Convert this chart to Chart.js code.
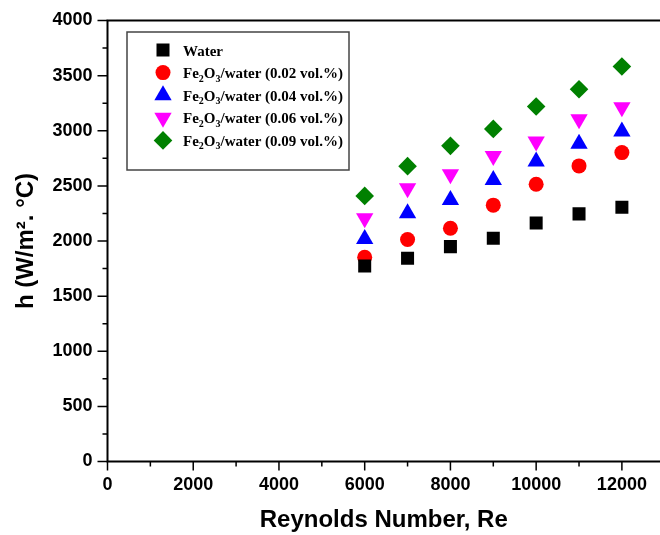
<!DOCTYPE html>
<html>
<head>
<meta charset="utf-8">
<script src="https://cdn.jsdelivr.net/npm/chart.js@4"></script>
<style>
  html, body { margin: 0; padding: 0; background: #fff; overflow: hidden; }
  canvas { display: block; }
</style>
</head>
<body>
<canvas id="myChart" width="660" height="535"></canvas>
<script>
// data
const reynolds = [6000, 7000, 8000, 9000, 10000, 11000, 12000];
const water = [1774, 1844, 1949, 2025, 2164, 2246, 2307];
const fe002 = [1853, 2013, 2116, 2325, 2515, 2681, 2802];
const fe004 = [2019, 2252, 2373, 2554, 2721, 2881, 2993];
const fe006 = [2207, 2479, 2606, 2772, 2902, 3105, 3214];
const fe009 = [2409, 2679, 2863, 3017, 3220, 3377, 3583];

const seriesNames = [
  'Water',
  'Fe₂O₃/water (0.02 vol.%)',
  'Fe₂O₃/water (0.04 vol.%)',
  'Fe₂O₃/water (0.06 vol.%)',
  'Fe₂O₃/water (0.09 vol.%)'
];
const xTicks = [0, 1000, 2000, 3000, 4000, 5000, 6000, 7000, 8000, 9000, 10000, 11000, 12000];
const xTickLabels = [0, 2000, 4000, 6000, 8000, 10000, 12000];
const yTickLabels = [0, 500, 1000, 1500, 2000, 2500, 3000, 3500, 4000];

function pts(arr) {
  return reynolds.map((r, i) => ({ x: r, y: arr[i] }));
}

const subMap = { '₂': '2', '₃': '3' };

// legend box inside the plot, drawn by hand so the subscripts look right
const legendBox = {
  id: 'legendBox',
  afterDraw(chart) {
    const ctx = chart.ctx;
    ctx.save();
    ctx.strokeStyle = '#444';
    ctx.lineWidth = 1.5;
    ctx.strokeRect(127, 32, 222, 138);
    ctx.textAlign = 'left';
    ctx.textBaseline = 'alphabetic';
    chart.data.datasets.forEach((ds, i) => {
      const y = 50 + i * 22.6;
      ctx.fillStyle = ds.backgroundColor;
      Chart.helpers.drawPoint(ctx, {
        pointStyle: ds.pointStyle,
        rotation: ds.rotation || 0,
        radius: ds.pointRadius,
        borderWidth: 0
      }, 163, y);
      ctx.fillStyle = '#000';
      let x = 183;
      let run = '';
      const flush = () => {
        if (!run) return;
        ctx.font = 'bold 15px "Liberation Serif"';
        ctx.fillText(run, x, y + 5.5);
        x += ctx.measureText(run).width;
        run = '';
      };
      for (const ch of ds.label) {
        if (subMap[ch]) {
          flush();
          ctx.font = 'bold 10px "Liberation Serif"';
          ctx.fillText(subMap[ch], x, y + 9);
          x += ctx.measureText(subMap[ch]).width;
        } else {
          run += ch;
        }
      }
      flush();
    });
    ctx.restore();
  }
};

// frame + long/short tick marks (right edge of the frame is off the picture)
const frame = {
  id: 'frame',
  afterDraw(chart) {
    const ctx = chart.ctx;
    const a = chart.chartArea;
    const sx = chart.scales.x, sy = chart.scales.y;
    ctx.save();
    ctx.strokeStyle = '#000';
    ctx.lineWidth = 2;
    ctx.beginPath();
    ctx.moveTo(a.right, a.top);
    ctx.lineTo(a.left, a.top);
    ctx.lineTo(a.left, a.bottom);
    ctx.lineTo(a.right, a.bottom);
    ctx.stroke();
    ctx.lineWidth = 1.5;
    ctx.beginPath();
    sx.ticks.forEach(t => {
      const px = sx.getPixelForValue(t.value);
      const len = xTickLabels.includes(t.value) ? 9 : 5;
      ctx.moveTo(px, a.bottom);
      ctx.lineTo(px, a.bottom + len);
    });
    sy.ticks.forEach(t => {
      const py = sy.getPixelForValue(t.value);
      const len = yTickLabels.includes(t.value) ? 10 : 5;
      ctx.moveTo(a.left - len, py);
      ctx.lineTo(a.left, py);
    });
    ctx.stroke();
    ctx.restore();
  }
};

const tickFont = { family: 'Liberation Sans', weight: 'bold', size: 18 };
const titleFont = { family: 'Liberation Sans', weight: 'bold', size: 24 };

const data = {
  datasets: [
    { label: seriesNames[0], data: pts(water), pointStyle: 'rect', pointRadius: 9.2, backgroundColor: '#000000' },
    { label: seriesNames[1], data: pts(fe002), pointStyle: 'circle', pointRadius: 7.5, backgroundColor: '#ff0000' },
    { label: seriesNames[2], data: pts(fe004), pointStyle: 'triangle', pointRadius: 10, backgroundColor: '#0000ff' },
    { label: seriesNames[3], data: pts(fe006), pointStyle: 'triangle', rotation: 180, pointRotation: 180, pointRadius: 10, backgroundColor: '#ff00ff' },
    { label: seriesNames[4], data: pts(fe009), pointStyle: 'rectRot', pointRadius: 9.3, backgroundColor: '#008000' }
  ]
};
data.datasets.forEach(ds => {
  ds.borderWidth = 0;
  ds.pointBorderWidth = 0;
  ds.pointBackgroundColor = ds.backgroundColor;
  ds.pointHoverRadius = ds.pointRadius;
});

let chart = new Chart(document.getElementById('myChart').getContext('2d'), {
  type: 'scatter',
  data: data,
  options: {
    responsive: false,
    animation: false,
    devicePixelRatio: 1,
    layout: { autoPadding: false, padding: { top: 20.5, right: 0, left: 0, bottom: 0 } },
    plugins: {
      legend: { display: false },
      tooltip: { enabled: false }
    },
    scales: {
      x: {
        type: 'linear',
        min: 0,
        max: 12889,
        afterFit(s) { s.height = 73.5; s.paddingLeft = 0; s.paddingRight = 0; },
        afterBuildTicks(s) { s.ticks = xTicks.map(v => ({ value: v })); },
        ticks: {
          autoSkip: false,
          maxRotation: 0,
          padding: 4,
          color: '#000',
          font: tickFont,
          callback: v => xTickLabels.includes(v) ? String(v) : ''
        },
        grid: { display: true, drawOnChartArea: false, drawTicks: true, tickLength: 9, color: 'rgba(0,0,0,0)' },
        border: { display: false },
        title: { display: true, text: 'Reynolds Number, Re', color: '#000', font: titleFont, padding: { top: 0, bottom: 0 } }
      },
      y: {
        min: 0,
        max: 4000,
        afterFit(s) { s.width = 107.5; },
        ticks: {
          stepSize: 250,
          autoSkip: false,
          padding: 5,
          color: '#000',
          font: tickFont,
          callback: v => yTickLabels.includes(v) ? String(v) : ''
        },
        grid: { display: true, drawOnChartArea: false, drawTicks: true, tickLength: 10, color: 'rgba(0,0,0,0)' },
        border: { display: false },
        title: { display: true, text: 'h (W/m². °C)', color: '#000', font: titleFont, padding: { top: 12, bottom: 0 } }
      }
    }
  },
  plugins: [frame, legendBox]
});
</script>
</body>
</html>
